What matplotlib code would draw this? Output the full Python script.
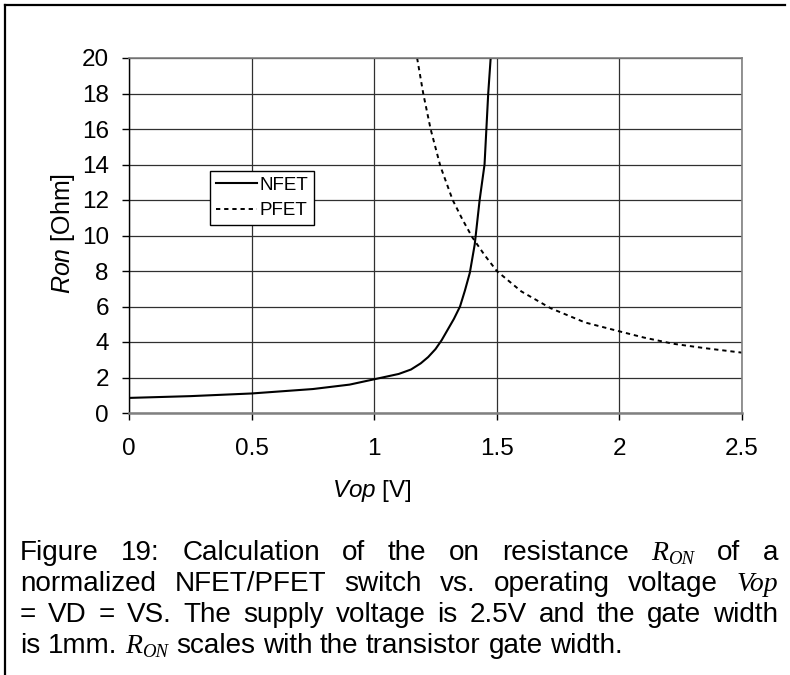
import matplotlib
matplotlib.use("Agg")
import matplotlib.pyplot as plt
from matplotlib.lines import Line2D
from matplotlib.font_manager import FontProperties

# data
v_nfet = [0.0, 0.25, 0.5, 0.75, 0.9, 1.0, 1.1, 1.15, 1.19, 1.22, 1.25, 1.275, 1.3, 1.325,
          1.35, 1.37, 1.39, 1.41, 1.43, 1.45, 1.465, 1.475]
r_nfet = [0.85, 0.95, 1.1, 1.35, 1.6, 1.9, 2.2, 2.45, 2.8, 3.15, 3.6, 4.1, 4.7, 5.3,
          6.0, 6.9, 7.9, 9.5, 12.0, 14.0, 18.0, 20.0]
v_pfet = [1.175, 1.2, 1.23, 1.27, 1.32, 1.36, 1.4, 1.45, 1.5, 1.6, 1.72, 1.86, 2.0, 2.1, 2.22, 2.35, 2.5]
r_pfet = [20.0, 18.0, 16.0, 13.9, 12.0, 10.9, 9.9, 8.9, 8.0, 6.85, 5.9, 5.1, 4.6, 4.25, 3.9, 3.65, 3.4]
x_ticks = [0, 0.5, 1, 1.5, 2, 2.5]
x_ticklabels = ["0", "0.5", "1", "1.5", "2", "2.5"]
y_ticks = list(range(0, 21, 2))

plt.rcParams["font.family"] = ["Liberation Sans", "DejaVu Sans"]
plt.rcParams["mathtext.fontset"] = "custom"
plt.rcParams["mathtext.rm"] = "Liberation Sans"
plt.rcParams["mathtext.it"] = "Liberation Sans:italic"

W, H = 790, 675
fig = plt.figure(figsize=(W / 100, H / 100), dpi=100)
ax = fig.add_axes([129 / W, 1 - 413 / H, (742 - 129) / W, (413 - 58) / H])

ax.plot(v_nfet, r_nfet, color="black", lw=1.5, label="NFET")
ax.plot(v_pfet, r_pfet, color="black", lw=1.4, linestyle=(0, (2.2, 2.0)), label="PFET")

ax.set_xlim(0, 2.5)
ax.set_ylim(0, 20)
ax.set_xticks(x_ticks)
ax.set_xticklabels(x_ticklabels)
ax.set_yticks(y_ticks)
ax.grid(True, color="#303030", lw=0.9)
ax.set_axisbelow(True)
ax.tick_params(axis="both", direction="out", length=5, width=1, labelsize=17.5, color="black")
ax.tick_params(axis="x", pad=13)
ax.tick_params(axis="y", pad=9.5)
for side in ["top", "right"]:
    ax.spines[side].set_color("#808080")
    ax.spines[side].set_linewidth(1.2)
ax.spines["bottom"].set_color("#808080")
ax.spines["bottom"].set_linewidth(1.8)
ax.spines["left"].set_color("black")
ax.spines["left"].set_linewidth(1.0)

ax.set_xlabel(r"$\mathit{Vop}$ [V]", fontsize=17.5, ha="center", va="center")
ax.xaxis.set_label_coords((372 - 129) / 613, -(491 - 413) / 355)
ax.set_ylabel(r"$\mathit{Ron}$ [Ohm]", fontsize=18, ha="center", va="center")
ax.yaxis.set_label_coords((63 - 129) / 613, (413 - 233) / 355)

leg = ax.legend(loc="upper left", bbox_to_anchor=(210 / W, 1 - 171 / H),
                bbox_transform=fig.transFigure, fontsize=13.5, frameon=True,
                fancybox=False, framealpha=1, edgecolor="black",
                handlelength=2.2, handletextpad=0.15, borderpad=0.3,
                labelspacing=0.45, borderaxespad=0)
leg.get_frame().set_linewidth(1.0)

# frame around the figure (top and left only)
fig.add_artist(Line2D([5 / W, 785 / W], [1 - 5 / H, 1 - 5 / H], color="black", lw=1.6,
                      transform=fig.transFigure))
fig.add_artist(Line2D([5 / W, 5 / W], [1 - 5 / H, 0], color="black", lw=1.6,
                      transform=fig.transFigure))

# caption, justified word by word
sans = FontProperties(family="Liberation Sans", size=20.1)
serif_it = FontProperties(family="Liberation Serif", style="italic", size=20)
serif_sub = FontProperties(family="Liberation Serif", style="italic", size=13.5)
R_ON = [("R", serif_it, 0), ("ON", serif_sub, -4)]
VOP = [("Vop", serif_it, 0)]


def words(s):
    return [[(w, sans, 0)] for w in s.split()]


line1 = words("Figure 19: Calculation of the on resistance") + [R_ON] + words("of a")
line2 = words("normalized NFET/PFET switch vs. operating voltage") + [VOP]
line3 = words("= VD = VS. The supply voltage is 2.5V and the gate width")
line4 = words("is 1mm.") + [R_ON] + words("scales with the transistor gate width.")
caption = [(line1, 560, True), (line2, 591, True), (line3, 622, True), (line4, 653, False)]

renderer = fig.canvas.get_renderer()
x_left, x_right = 20, 778


def measure(s, fp):
    t = fig.text(0, 0, s, fontproperties=fp)
    w = t.get_window_extent(renderer).width
    t.remove()
    return w


space = measure("a a", sans) - measure("aa", sans)

for line, base, justify in caption:
    widths = [sum(measure(s, fp) for s, fp, dy in w) for w in line]
    gap = (x_right - x_left - sum(widths)) / (len(line) - 1) if justify else space
    x = x_left
    for w, wd in zip(line, widths):
        xx = x
        for s, fp, dy in w:
            fig.text(xx / W, 1 - (base - dy) / H, s, fontproperties=fp, va="baseline", ha="left")
            xx += measure(s, fp)
        x += wd + gap

fig.savefig("out.png", dpi=100)
